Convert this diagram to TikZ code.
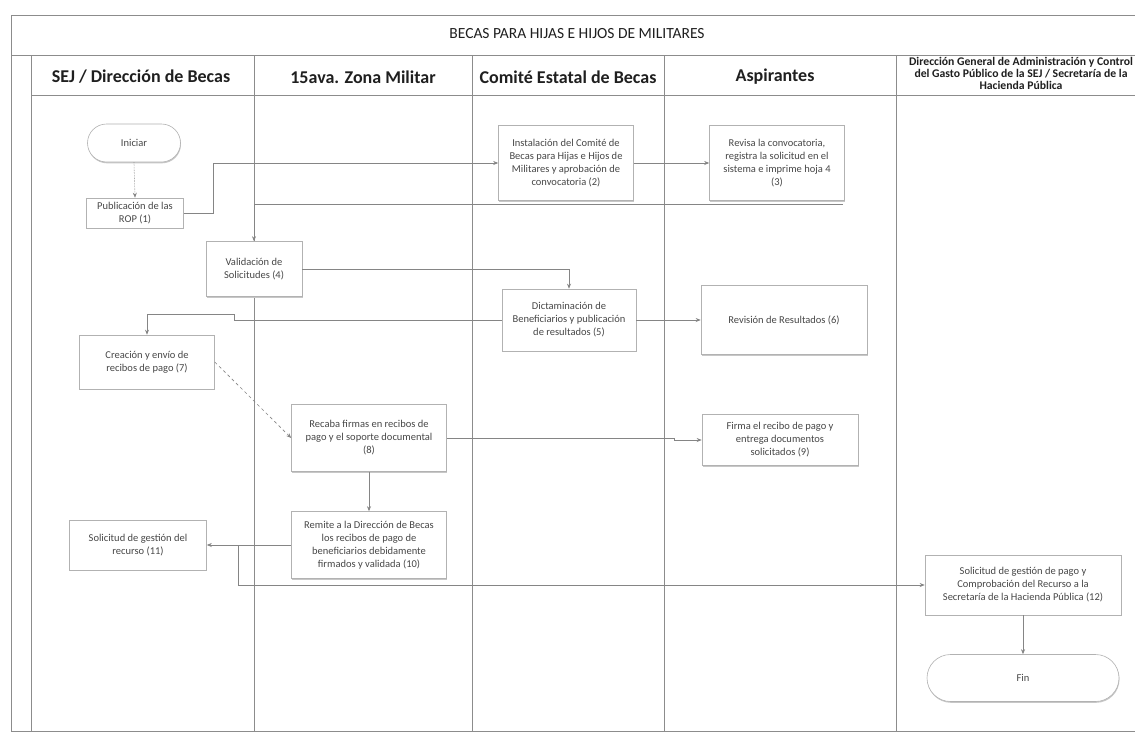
\documentclass[tikz,border=0pt]{standalone}
\usepackage{fontspec}
\setmainfont{Carlito}
\usetikzlibrary{arrows.meta,shapes.misc,shadows,backgrounds}

\begin{document}
\begin{tikzpicture}[x=1pt,y=-1pt,
  lane/.style={draw=black!45, line width=0.7pt},
  box/.style={draw=black!30, line width=0.6pt, fill=white,
    drop shadow={shadow xshift=0.5pt,shadow yshift=-1.3pt,fill=black!22,opacity=1},
    align=center, font=\fontsize{10.5}{13}\selectfont, text=black!72, inner sep=2pt},
  term/.style={box, rounded rectangle},
  conn/.style={draw=black!48, line width=0.6pt, -{Stealth[length=5pt,width=4pt]}},
  hdr/.style={font=\bfseries\fontsize{18}{20}\selectfont, text=black!88},
]
\useasboundingbox (0,0) rectangle (1135,739);
\clip (0,0) rectangle (1135,739);

% ---------- nodes ----------
\node[term, minimum width=97pt, minimum height=38pt] (ini) at (134,143) {Iniciar};
\node[box, minimum width=97pt, minimum height=30pt] (p1) at (135,213) {Publicación de las\\ROP (1)};
\node[box, minimum width=135pt, minimum height=75pt] (p2) at (566,163) {Instalación del Comité de\\Becas para Hijas e Hijos de\\Militares y aprobación de\\convocatoria (2)};
\node[box, minimum width=135pt, minimum height=75pt] (p3) at (777,163) {Revisa la convocatoria,\\registra la solicitud en el\\sistema e imprime hoja 4\\(3)};
\node[box, minimum width=96pt, minimum height=55pt] (p4) at (254,269) {Validación de\\Solicitudes (4)};
\node[box, minimum width=134pt, minimum height=62pt] (p5) at (569,320) {Dictaminación de\\Beneficiarios y publicación\\de resultados (5)};
\node[box, minimum width=166pt, minimum height=69pt] (p6) at (784,320) {Revisión de Resultados (6)};
\node[box, minimum width=135pt, minimum height=54pt] (p7) at (147,362) {Creación y envío de\\recibos de pago (7)};
\node[box, minimum width=155pt, minimum height=67pt] (p8) at (369,438) {Recaba firmas en recibos de\\pago y el soporte documental\\(8)};
\node[box, minimum width=156pt, minimum height=51pt] (p9) at (780,440) {Firma el recibo de pago y\\entrega documentos\\solicitados (9)};
\node[box, minimum width=155pt, minimum height=67pt] (p10) at (369,545) {Remite a la Dirección de Becas\\los recibos de pago de\\beneficiarios debidamente\\firmados y validada (10)};
\node[box, minimum width=137pt, minimum height=50pt] (p11) at (138,545) {Solicitud de gestión del\\recurso (11)};
\node[box, minimum width=196pt, minimum height=60pt] (p12) at (1023,585) {Solicitud de gestión de pago y\\Comprobación del Recurso a la\\Secretaría de la Hacienda Pública (12)};
\node[term, minimum width=196pt, minimum height=47pt] (fin) at (1023,678) {Fin};

% ---------- lanes (background) ----------
\begin{scope}[on background layer]
  \fill[white] (0,0) rectangle (1135,739);
  \draw[lane] (11,15) -- (1135,15);
  \draw[lane] (11,15) -- (11,731);
  \draw[lane] (11,55) -- (1135,55);
  \draw[lane] (31,55) -- (31,731);
  \draw[lane] (31,95) -- (1135,95);
  \draw[lane] (11,731) -- (1135,731);
  \foreach \xx in {254,472,664,896} \draw[lane] (\xx,55) -- (\xx,731);
\end{scope}

% ---------- titles ----------
\node[font=\fontsize{15.5}{17}\selectfont, text=black!88] (title) at (577,34) {BECAS PARA HIJAS E HIJOS DE MILITARES};
\node[hdr] (h1) at (141,77) {SEJ / Dirección de Becas};
\node[hdr] (h2) at (363,77) {15ava. Zona Militar};
\node[hdr] (h3) at (568,77) {Comité Estatal de Becas};
\node[hdr] (h4) at (775,77) {Aspirantes};
\node[font=\bfseries\fontsize{11.7}{12}\selectfont, text=black!88, align=center] (h5) at (1021,73) {Dirección General de Administración y Control\\del Gasto Público de la SEJ / Secretaría de la\\Hacienda Pública};

% ---------- connectors ----------
\draw[conn, densely dotted] (ini.south) -- (p1.north);
\draw[conn] (p1.east) -- ++(29,0) |- (p2.west);
\draw[conn] (p2.east) -- (p3.west);
\draw[conn] ([xshift=-2pt,yshift=-3pt]p3.south east) -| (p4.north);
\draw[conn] (p4.east) -| (p5.north);
\draw[conn] (p5.east) -- (p6.west);
\draw[conn] (p5.west) -- ++(-267,0) -- ++(0,-6) -| (p7.north);
\draw[conn, dashed] (p7.east) -- (p8.west);
\draw[conn] (p8.east) -- ++(227,0) |- (p9.west);
\draw[conn] (p8.south) -- (p10.north);
\draw[conn] (p10.west) -- (p11.east);
\coordinate (j11) at (238,545);
\draw[conn] (j11) |- (p12.west);
\draw[conn] (p12.south) -- (fin.north);
\end{tikzpicture}
\end{document}
